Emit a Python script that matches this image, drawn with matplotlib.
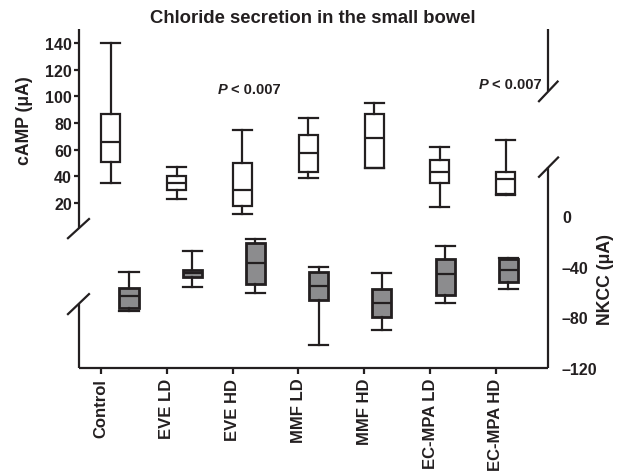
import matplotlib
matplotlib.use('Agg')
import matplotlib.pyplot as plt

plt.rcParams['font.family'] = ['Liberation Sans', 'DejaVu Sans']
plt.rcParams['font.weight'] = 'bold'

ink = '#231f20'
grey = '#8c8c8e'

# data
groups = ['Control', 'EVE LD', 'EVE HD', 'MMF LD', 'MMF HD', 'EC-MPA LD', 'EC-MPA HD']

# cAMP (uA): low whisker, q1, median, q3, high whisker
camp_lo = [35, 23, 12, 39, 46, 17, 26]
camp_q1 = [51, 30, 17.5, 43.5, 46.3, 35, 27]
camp_med = [66, 35, 30, 57.5, 69, 43.5, 38]
camp_q3 = [87, 40, 50, 71, 87, 52, 43.5]
camp_hi = [140, 47, 75, 84, 95, 62, 67]

# NKCC (uA)
nkcc_lo = [-75, -56, -61, -102, -90, -69, -58]
nkcc_q1 = [-73, -48, -54, -66, -80, -62, -52]
nkcc_med = [-63, -45, -37, -55, -68.5, -46, -43]
nkcc_q3 = [-57, -43, -21, -44.5, -58, -34, -34]
nkcc_hi = [-44, -28, -18, -40, -45, -24, -33]

camp_ticks = [20, 40, 60, 80, 100, 120, 140]
nkcc_ticks = [0, -40, -80, -120]


def stats(lo, q1, med, q3, hi):
    return [dict(whislo=a, q1=b, med=c, q3=d, whishi=e, fliers=[])
            for a, b, c, d, e in zip(lo, q1, med, q3, hi)]


fig = plt.figure(figsize=(6.24, 4.77), dpi=100)
ax = fig.add_axes([79 / 624, 1 - 369 / 477, 469 / 624, 339 / 477])
ax2 = ax.twinx()

n = len(groups)
w = 0.29
pos_white = [i + 0.15 for i in range(n)]
pos_grey = [0.426 + i * 0.9605 for i in range(n)]

lw = 1.6
line = dict(color=ink, linewidth=lw)

ax.bxp(stats(camp_lo, camp_q1, camp_med, camp_q3, camp_hi), positions=pos_white,
       widths=w, capwidths=w, patch_artist=True, showfliers=False,
       boxprops=dict(facecolor='white', edgecolor=ink, linewidth=lw),
       whiskerprops=line, capprops=line, medianprops=line)

ax2.bxp(stats(nkcc_lo, nkcc_q1, nkcc_med, nkcc_q3, nkcc_hi), positions=pos_grey,
        widths=w, capwidths=w, patch_artist=True, showfliers=False,
        boxprops=dict(facecolor=grey, edgecolor=ink, linewidth=lw + 0.4),
        whiskerprops=line, capprops=line, medianprops=line)

ax.set_xlim(-0.334, 6.793)
ax.set_ylim(-103.7, 150.5)
ax2.set_ylim(-120, 147.6)

for a in (ax, ax2):
    for s in a.spines.values():
        s.set_visible(False)

ax.set_xticks(range(n))
ax.set_xticklabels(groups, rotation=90, fontsize=12, fontweight='bold', color=ink)
ax.set_yticks(camp_ticks)
ax.set_yticklabels([str(t) for t in camp_ticks], fontsize=11.5, fontweight='bold', color=ink)
ax.tick_params(axis='x', length=4, width=lw, color=ink, pad=3)
ax.tick_params(axis='y', length=3.5, width=lw, color=ink, pad=1.5)

ax2.set_yticks(nkcc_ticks)
ax2.set_yticklabels(['0', '\u201340', '\u201380', '\u2013120'], fontsize=11.5,
                    fontweight='bold', color=ink)
ax2.tick_params(axis='y', length=0, pad=10)

# broken axis lines
tr = ax.transAxes
seg = dict(color=ink, linewidth=lw, clip_on=False, transform=tr, solid_capstyle='butt')
ax.plot([0, 0], [1.0, 0.414], **seg)
ax.plot([0, 0], [0.189, 0], **seg)
ax.plot([0, 1], [0, 0], **seg)
ax.plot([1, 1], [1.0, 0.816], **seg)
ax.plot([1, 1], [0.593, 0], **seg)
slash = dict(color=ink, linewidth=lw, clip_on=False, transform=tr)
ax.plot([-0.0235, 0.0213], [0.383, 0.4395], **slash)
ax.plot([-0.0235, 0.0213], [0.159, 0.218], **slash)
ax.plot([0.9808, 1.0205], [0.787, 0.845], **slash)
ax.plot([0.9808, 1.0215], [0.564, 0.621], **slash)

# p-values
for px, py in [(1.778, 0.823), (5.745, 0.838)]:
    t1 = ax.text(px, py, 'P', transform=ax.get_xaxis_transform(), fontsize=10.5,
                 fontstyle='italic', fontweight='bold', color=ink, va='center', ha='left')
    ax.annotate('< 0.007', xy=(1, 0.5), xycoords=t1, xytext=(2, 0),
                textcoords='offset points', fontsize=10.5, fontweight='bold',
                color=ink, va='center', ha='left')

fig.text(0.5016, 0.962, 'Chloride secretion in the small bowel', ha='center', va='center',
         fontsize=13.3, fontweight='bold', color=ink)
fig.text(0.040, 0.748, 'cAMP (\u03bcA)', rotation=90, ha='center', va='center',
         fontsize=12.7, fontweight='bold', color=ink)
fig.text(0.971, 0.413, 'NKCC (\u03bcA)', rotation=90, ha='center', va='center',
         fontsize=12.7, fontweight='bold', color=ink)

fig.savefig('out.png', dpi=100)
